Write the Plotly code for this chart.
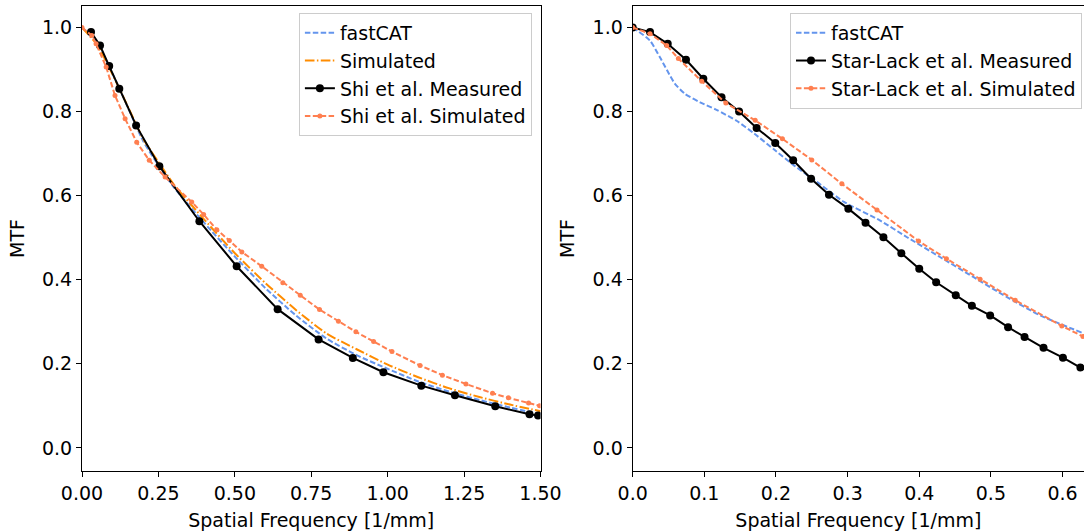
import plotly.graph_objects as go

# ---------------- Left panel data (Shi et al.) ----------------
fastcat_l_x = [0, 0.05, 0.10, 0.15, 0.20, 0.25, 0.30, 0.40, 0.50, 0.60, 0.70, 0.80, 0.90, 1.00, 1.10, 1.20, 1.30, 1.40, 1.50]
fastcat_l_y = [1.0, 0.962, 0.890, 0.810, 0.730, 0.672, 0.620, 0.535, 0.455, 0.380, 0.315, 0.260, 0.220, 0.188, 0.158, 0.134, 0.114, 0.096, 0.080]

sim_l_x = [0, 0.05, 0.10, 0.15, 0.20, 0.25, 0.30, 0.40, 0.50, 0.60, 0.70, 0.80, 0.90, 1.00, 1.10, 1.20, 1.30, 1.40, 1.50]
sim_l_y = [1.0, 0.958, 0.888, 0.812, 0.735, 0.680, 0.627, 0.543, 0.463, 0.392, 0.328, 0.272, 0.234, 0.198, 0.168, 0.142, 0.121, 0.103, 0.087]

shi_meas_x = [0.0295, 0.059, 0.089, 0.122, 0.177, 0.253, 0.384, 0.506, 0.640, 0.774, 0.886, 0.986, 1.110, 1.220, 1.352, 1.464, 1.492]
shi_meas_y = [0.989, 0.957, 0.908, 0.854, 0.767, 0.670, 0.539, 0.432, 0.330, 0.258, 0.214, 0.180, 0.148, 0.125, 0.099, 0.080, 0.077]

shi_sim_x = [0, 0.032, 0.046, 0.079, 0.108, 0.141, 0.179, 0.220, 0.272, 0.359, 0.398, 0.441, 0.482, 0.523, 0.588, 0.657, 0.714, 0.777, 0.839, 0.896, 0.954, 1.014, 1.106, 1.179, 1.256, 1.343, 1.395, 1.461, 1.497]
shi_sim_y = [1.0, 0.981, 0.961, 0.906, 0.838, 0.783, 0.727, 0.684, 0.644, 0.585, 0.555, 0.519, 0.493, 0.466, 0.432, 0.393, 0.363, 0.329, 0.301, 0.276, 0.253, 0.229, 0.196, 0.173, 0.152, 0.130, 0.119, 0.107, 0.100]

# ---------------- Right panel data (Star-Lack et al.) ----------------
fastcat_r_x = [0, 0.024, 0.038, 0.048, 0.059, 0.073, 0.094, 0.117, 0.145, 0.170, 0.200, 0.225, 0.257, 0.295, 0.345, 0.383, 0.429, 0.476, 0.522, 0.569, 0.630]
fastcat_r_y = [1.0, 0.969, 0.929, 0.898, 0.866, 0.842, 0.822, 0.804, 0.778, 0.747, 0.706, 0.672, 0.633, 0.585, 0.541, 0.501, 0.454, 0.406, 0.359, 0.315, 0.272]

sl_meas_x = [0, 0.0242, 0.0489, 0.0744, 0.0986, 0.124, 0.1485, 0.173, 0.199, 0.224, 0.249, 0.274, 0.301, 0.325, 0.350, 0.375, 0.400, 0.4236, 0.451, 0.4735, 0.499, 0.524, 0.547, 0.5735, 0.6006, 0.625]
sl_meas_y = [1.0, 0.989, 0.961, 0.923, 0.878, 0.834, 0.800, 0.761, 0.725, 0.684, 0.640, 0.602, 0.569, 0.5355, 0.501, 0.463, 0.426, 0.394, 0.363, 0.338, 0.315, 0.287, 0.264, 0.238, 0.2145, 0.191]

sl_sim_x = [0, 0.0242, 0.0475, 0.0637, 0.0964, 0.130, 0.171, 0.209, 0.250, 0.292, 0.341, 0.399, 0.438, 0.485, 0.534, 0.599, 0.6285]
sl_sim_y = [1.0, 0.985, 0.957, 0.926, 0.872, 0.820, 0.779, 0.735, 0.685, 0.628, 0.566, 0.492, 0.450, 0.401, 0.351, 0.290, 0.265]

# ---------------- Styles ----------------
BLUE = "#6495ED"
ORANGE = "#FF8C00"
CORAL = "#FF7F50"
DASH = "5.5px,2.4px"
DASHDOT = "9.6px,2.4px,1.5px,2.4px"
FONT = "DejaVu Sans"

fig = go.Figure()

# Left
fig.add_trace(go.Scatter(x=fastcat_l_x, y=fastcat_l_y, mode="lines", name="fastCAT",
                         line=dict(color=BLUE, width=2, dash=DASH, shape="spline", smoothing=0.6),
                         xaxis="x", yaxis="y", legend="legend", legendgroup="a"))
fig.add_trace(go.Scatter(x=sim_l_x, y=sim_l_y, mode="lines", name="Simulated",
                         line=dict(color=ORANGE, width=2, dash=DASHDOT, shape="spline", smoothing=0.6),
                         xaxis="x", yaxis="y", legend="legend", legendgroup="b"))
fig.add_trace(go.Scatter(x=shi_meas_x, y=shi_meas_y, mode="lines+markers", name="Shi et al. Measured",
                         line=dict(color="black", width=2), marker=dict(color="black", size=8),
                         xaxis="x", yaxis="y", legend="legend", legendgroup="c"))
fig.add_trace(go.Scatter(x=shi_sim_x, y=shi_sim_y, mode="lines+markers", name="Shi et al. Simulated",
                         line=dict(color=CORAL, width=2, dash=DASH), marker=dict(color=CORAL, size=5),
                         xaxis="x", yaxis="y", legend="legend", legendgroup="d"))

# Right
fig.add_trace(go.Scatter(x=fastcat_r_x, y=fastcat_r_y, mode="lines", name="fastCAT",
                         line=dict(color=BLUE, width=2, dash=DASH, shape="spline", smoothing=0.6),
                         xaxis="x2", yaxis="y2", legend="legend2", legendgroup="e"))
fig.add_trace(go.Scatter(x=sl_meas_x, y=sl_meas_y, mode="lines+markers", name="Star-Lack et al. Measured",
                         line=dict(color="black", width=2), marker=dict(color="black", size=8),
                         xaxis="x2", yaxis="y2", legend="legend2", legendgroup="f"))
fig.add_trace(go.Scatter(x=sl_sim_x, y=sl_sim_y, mode="lines+markers", name="Star-Lack et al. Simulated",
                         line=dict(color=CORAL, width=2, dash=DASH), marker=dict(color=CORAL, size=5),
                         xaxis="x2", yaxis="y2", legend="legend2", legendgroup="g"))

axis_common = dict(showgrid=False, zeroline=False, showline=True, linecolor="black", linewidth=1.2,
                   ticks="outside", ticklen=5, tickwidth=1.2, tickcolor="black", automargin=False,
                   tickfont=dict(family=FONT, size=19, color="black"))

yvals = [0, 0.2, 0.4, 0.6, 0.8, 1.0]
fig.update_layout(
    width=1084, height=531,
    margin=dict(l=82, r=0, t=6, b=60),
    paper_bgcolor="white", plot_bgcolor="white",
    font=dict(family=FONT, size=19, color="black"),
    xaxis=dict(domain=[0, 0.4576], range=[0, 1.5], tickvals=[0, 0.25, 0.5, 0.75, 1.0, 1.25, 1.5],
               tickformat=".2f", mirror=True, anchor="y",
               title=dict(text="Spatial Frequency [1/mm]", standoff=14, font=dict(size=19)), **axis_common),
    yaxis=dict(domain=[0, 1], range=[-0.055, 1.051], tickvals=yvals, tickformat=".1f", mirror=True, anchor="x",
               title=dict(text="MTF", standoff=12, font=dict(size=19)), **axis_common),
    xaxis2=dict(domain=[0.5496, 1], range=[0, 0.63], tickvals=[0, 0.1, 0.2, 0.3, 0.4, 0.5, 0.6],
                tickformat=".1f", mirror=True, anchor="y2",
                title=dict(text="Spatial Frequency [1/mm]", standoff=14, font=dict(size=19)), **axis_common),
    yaxis2=dict(domain=[0, 1], range=[-0.055, 1.051], tickvals=yvals, tickformat=".1f", mirror=False, anchor="x2",
                title=dict(text="MTF", standoff=12, font=dict(size=19)), **axis_common),
    legend=dict(x=0.449, y=0.985, xanchor="right", yanchor="top", bgcolor="white",
                bordercolor="#cccccc", borderwidth=1, font=dict(family=FONT, size=19, color="black"),
                tracegroupgap=3, traceorder="normal"),
    legend2=dict(x=0.998, y=0.985, xanchor="right", yanchor="top", bgcolor="white",
                 bordercolor="#cccccc", borderwidth=1, font=dict(family=FONT, size=19, color="black"),
                 tracegroupgap=3, traceorder="normal"),
)

fig.write_html("out.html", config={"displayModeBar": False},
               post_script="document.body.style.margin='0';document.body.style.padding='0';document.body.style.overflow='hidden';")
